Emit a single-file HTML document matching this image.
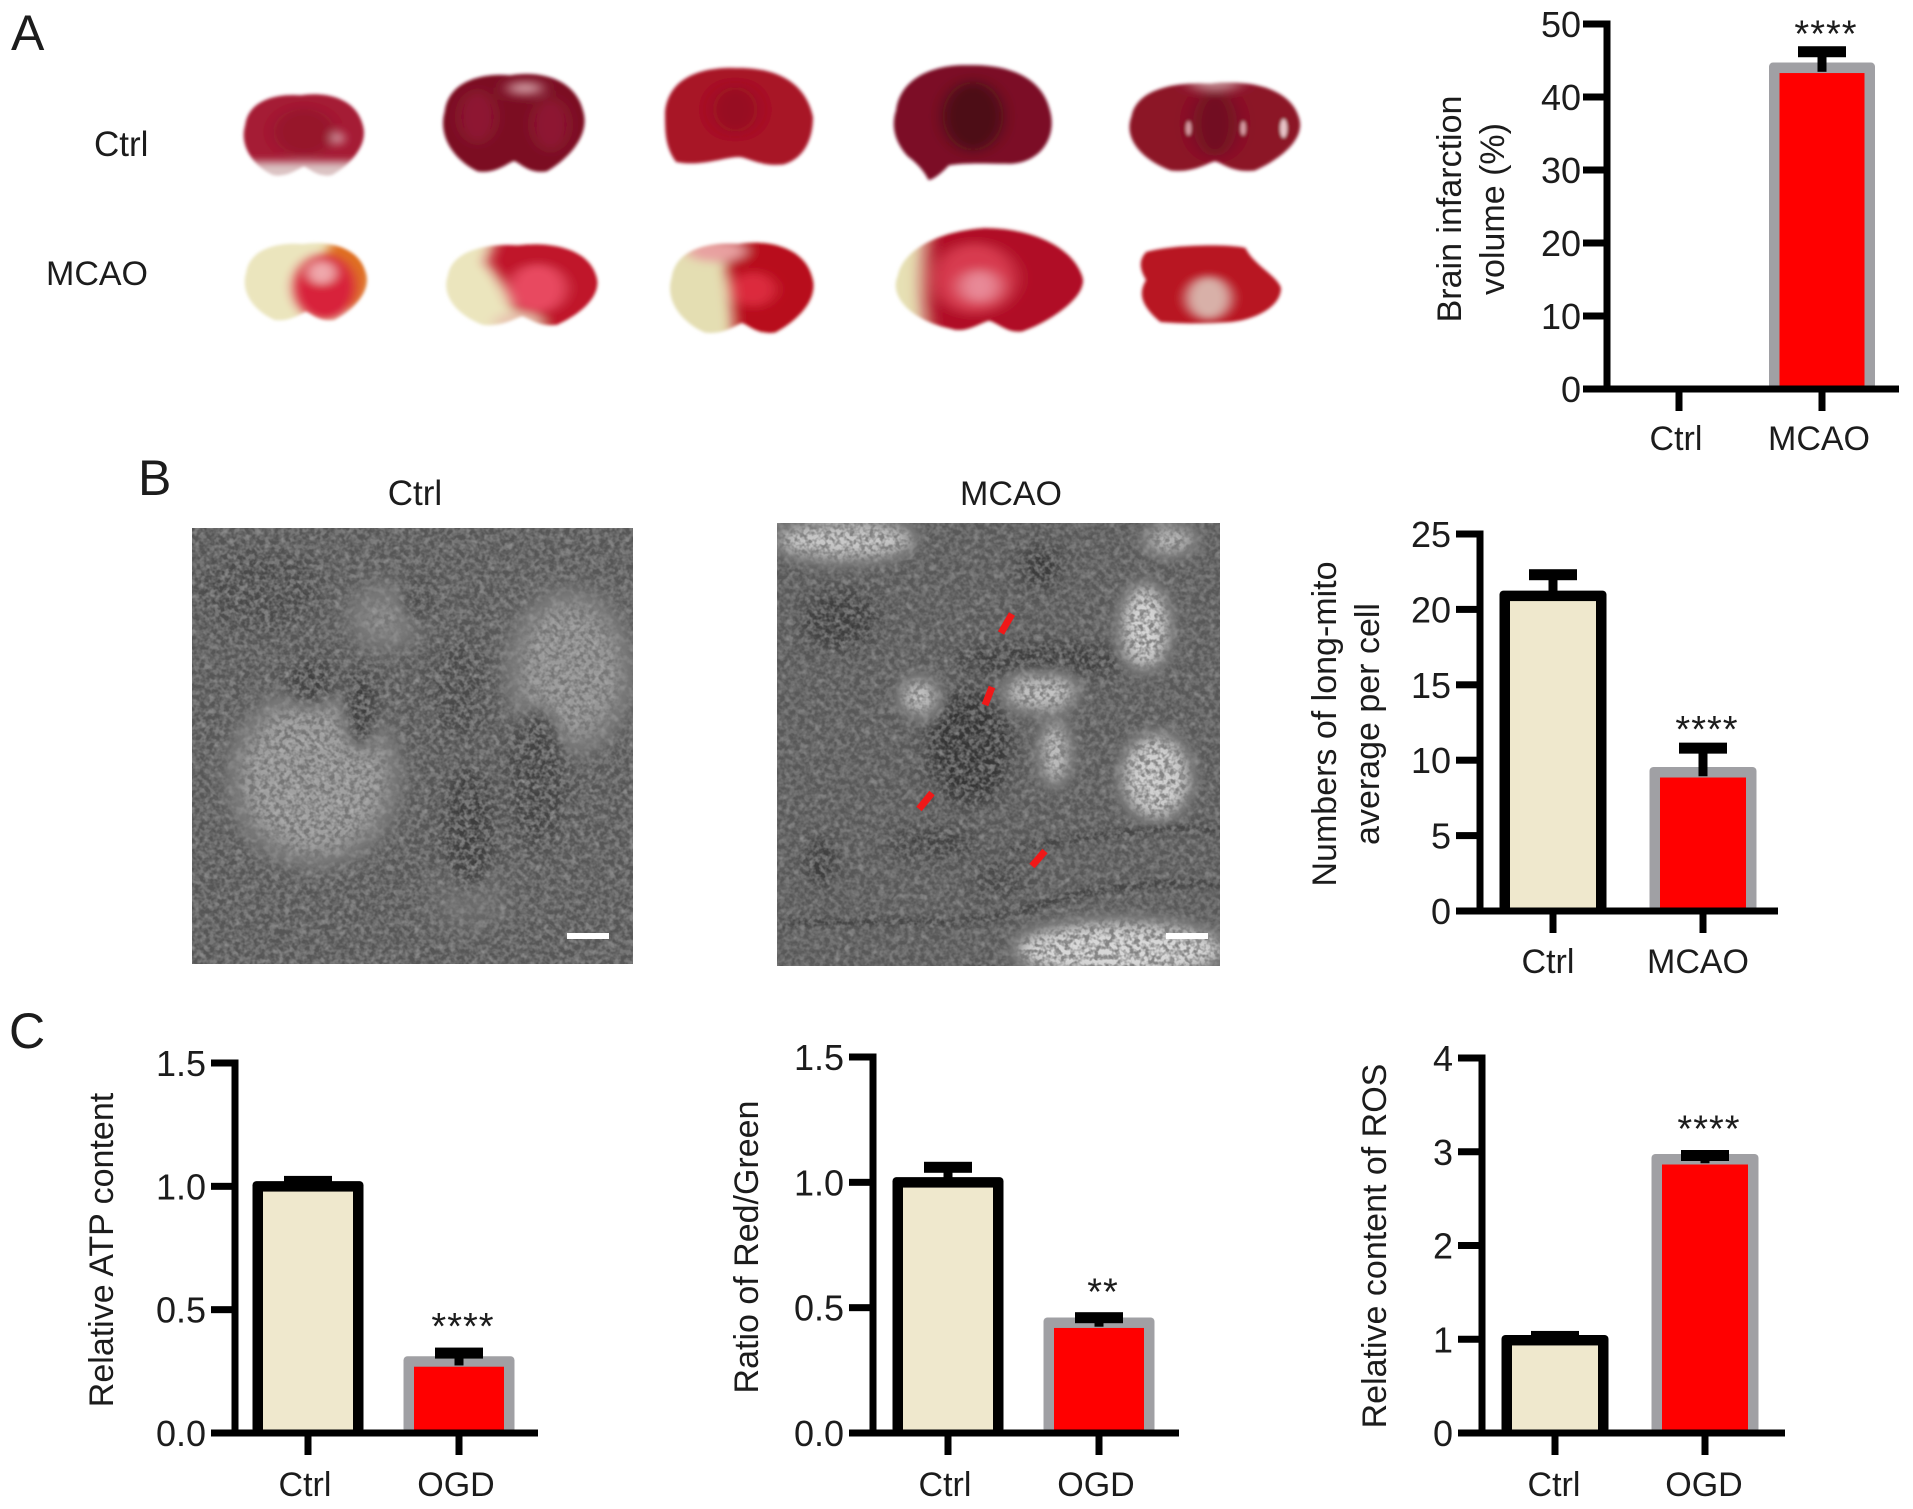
<!DOCTYPE html>
<html lang="en">
<head>
<meta charset="utf-8">
<title>Brain infarction and mitochondrial measurements</title>
<style>
html,body{margin:0;padding:0;background:#fff}
#figure{display:block;width:1913px;height:1509px}
text{font-family:"Liberation Sans",Arial,sans-serif;fill:#1c1c1c}
</style>
</head>
<body>
<svg id="figure" xmlns="http://www.w3.org/2000/svg" width="1913" height="1509" viewBox="0 0 1913 1509">
<defs>
<filter id="soft" x="-10%" y="-10%" width="120%" height="120%"><feGaussianBlur stdDeviation="1.6"/></filter>
<filter id="innerU" filterUnits="userSpaceOnUse" x="-1.5" y="-1.5" width="3" height="3"><feGaussianBlur stdDeviation=".09"/></filter>
<filter id="blob" x="-40%" y="-40%" width="180%" height="180%"><feGaussianBlur stdDeviation="8"/></filter>
<filter id="blobBig" x="-40%" y="-40%" width="180%" height="180%"><feGaussianBlur stdDeviation="14"/></filter>
<filter id="line" x="-20%" y="-20%" width="140%" height="140%"><feGaussianBlur stdDeviation="3"/></filter>
<filter id="speck" x="0" y="0" width="100%" height="100%">
<feTurbulence type="fractalNoise" baseFrequency="0.2" numOctaves="2" seed="7"/>
<feColorMatrix type="matrix" values="0 0 0 0 0.18  0 0 0 0 0.18  0 0 0 0 0.18  3.4 0 0 0 -1.3"/>
</filter>
<filter id="speckLight" x="0" y="0" width="100%" height="100%">
<feTurbulence type="fractalNoise" baseFrequency="0.14" numOctaves="2" seed="21"/>
<feColorMatrix type="matrix" values="0 0 0 0 0.7  0 0 0 0 0.7  0 0 0 0 0.7  2.2 0 0 0 -1.0"/>
</filter>
<path id="slice" d="M-.95,-.2C-.9,-.75-.5,-.95-.05,-.9C.4,-1,.85,-.8.95,-.2C1.05,.3.7,.75.45,.95C.2,1,.1,.8,0,.75C-.1,.8-.25,1-.5,.95C-.8,.75-1.05,.3-.95,-.2Z"/>
<path id="sliceBig" d="M-.95,-.1C-.9,-.6-.5,-.95-.05,-1C.4,-1,.85,-.7.97,-.1C1.05,.3.6,.8.35,.95C.2,1,.1,.8,0,.75C-.1,.8-.25,1-.4,.9C-.8,.75-1.05,.3-.95,-.1Z"/>
<clipPath id="sliceClip"><use href="#slice"/></clipPath>
<clipPath id="sliceBigClip"><use href="#sliceBig"/></clipPath>
<clipPath id="temCtrlClip"><rect x="192" y="528" width="441" height="436"/></clipPath>
<clipPath id="temMcaoClip"><rect x="777" y="523" width="443" height="443"/></clipPath>
</defs>

<text x="11" y="50" font-size="50">A</text>
<text x="138" y="495" font-size="50">B</text>
<text x="9" y="1048" font-size="50">C</text>
<text x="94" y="156" font-size="35">Ctrl</text>
<text x="46" y="285" font-size="34">MCAO</text>
<text x="415" y="505" font-size="35" text-anchor="middle">Ctrl</text>
<text x="1011" y="505" font-size="34" text-anchor="middle">MCAO</text>

<!-- TTC stained brain slices -->
<g filter="url(#soft)"><g transform="translate(304,134) scale(62,43)">
<g clip-path="url(#sliceClip)">
<rect x="-1.1" y="-1.1" width="2.2" height="2.2" fill="#a51a34"/>
<g filter="url(#innerU)">
<rect x="-1.1" y=".65" width="2.2" height=".5" fill="#dcc4c4"/>
<ellipse cx="0" cy="-.05" rx=".5" ry=".55" fill="#8e1028" opacity=".6"/>
<ellipse cx=".55" cy=".1" rx=".07" ry=".15" fill="#e4c0c4"/>
</g>
</g>
</g></g>
<g filter="url(#soft)"><g transform="translate(514,122) scale(73,52)">
<g clip-path="url(#sliceClip)">
<rect x="-1.1" y="-1.1" width="2.2" height="2.2" fill="#7c0f24"/>
<g filter="url(#innerU)">
<ellipse cx=".15" cy="-.65" rx=".25" ry=".1" fill="#e0b4b8"/>
<ellipse cx="-.5" cy="-.1" rx=".25" ry=".5" fill="#8e1830"/>
<ellipse cx=".5" cy=".05" rx=".25" ry=".5" fill="#8e1830"/>
</g>
</g>
</g></g>
<g filter="url(#soft)"><g transform="translate(739,117) scale(74,50)">
<path d="M-1,-.1C-.95,-.8-.5,-1-.05,-.98C.5,-1,.9,-.7,1,0C1,.5,.85,.85,.6,.95C.3,1,.1,.8,0,.8C-.2,.8-.5,1-.85,.9C-1,.6-1,.3-1,-.1Z" fill="#a81226"/>
<ellipse cx="-.05" cy="-.15" rx=".3" ry=".45" fill="#8c0f22" opacity=".6" filter="url(#innerU)"/>
</g></g>
<g filter="url(#soft)"><g transform="translate(973,122) scale(81,58)">
<path d="M-.95,-.2C-.9,-.75-.5,-1-.05,-.98C.4,-1,.85,-.8.95,-.2C1.05,.3.8,.75.4,.72C.15,.72-.1,.7-.3,.75C-.4,.9-.5,1-.55,1C-.6,.85-.7,.7-.8,.6C-1,.3-1,0-.95,-.2Z" fill="#7c1026"/>
<ellipse cx="0" cy="-.1" rx=".38" ry=".6" fill="#4e0a16" filter="url(#innerU)"/>
</g></g>
<g filter="url(#soft)"><g transform="translate(1215,126) scale(88,47)">
<g clip-path="url(#sliceClip)">
<rect x="-1.1" y="-1.1" width="2.2" height="2.2" fill="#8c1228"/>
<g filter="url(#innerU)">
<ellipse cx="0" cy="-.05" rx=".25" ry=".7" fill="#6a0e1e" opacity=".8"/>
<ellipse cx="0" cy="-.9" rx=".3" ry=".12" fill="#c8989c"/>
</g>
<ellipse cx=".78" cy=".05" rx=".04" ry=".2" fill="#e8c4c8"/>
<ellipse cx="-.3" cy=".05" rx=".03" ry=".15" fill="#d89ca4"/>
<ellipse cx=".32" cy=".05" rx=".03" ry=".15" fill="#d89ca4"/>
</g>
</g></g>
<g filter="url(#soft)"><g transform="translate(306,281) scale(63,41)">
<g clip-path="url(#sliceClip)">
<rect x="-1.1" y="-1.1" width="2.2" height="2.2" fill="#ebe5bd"/>
<g filter="url(#innerU)">
<ellipse cx=".65" cy="-.2" rx=".4" ry=".9" fill="#e07020"/>
<ellipse cx=".3" cy=".15" rx=".5" ry=".8" fill="#d8223a"/>
<ellipse cx=".25" cy="-.2" rx=".22" ry=".28" fill="#f0a8ac"/>
</g>
</g>
</g></g>
<g filter="url(#soft)"><g transform="translate(522,284) scale(78,43)">
<g clip-path="url(#sliceClip)">
<rect x="-1.1" y="-1.1" width="2.2" height="2.2" fill="#ebe5bd"/>
<g filter="url(#innerU)">
<path d="M-.3,-1.2L1.2,-1.2L1.2,1.2L0,1.2C-.1,.5,-.2,0,-.45,-.5Z" fill="#c0142c"/>
<ellipse cx=".2" cy=".1" rx=".36" ry=".55" fill="#e84860"/>
<ellipse cx="-.05" cy=".9" rx=".3" ry=".25" fill="#e8c4b0"/>
</g>
</g>
</g></g>
<g filter="url(#soft)"><g transform="translate(742,287) scale(74,48)">
<g clip-path="url(#sliceClip)">
<rect x="-1.1" y="-1.1" width="2.2" height="2.2" fill="#e4deb2"/>
<g filter="url(#innerU)">
<path d="M-.45,-1.2L1.2,-1.2L1.2,1.2L-.1,1.2C-.1,.6,-.15,0,-.2,-.4Z" fill="#b8101f"/>
<ellipse cx="-.35" cy="-.75" rx=".4" ry=".22" fill="#e8a0a0"/>
<ellipse cx=".15" cy=".05" rx=".3" ry=".35" fill="#dc2a3c"/>
</g>
</g>
</g></g>
<g filter="url(#soft)"><g transform="translate(989,281) scale(96,53)">
<g clip-path="url(#sliceBigClip)">
<rect x="-1.1" y="-1.1" width="2.2" height="2.2" fill="#e6e0b4"/>
<g filter="url(#innerU)">
<path d="M-.6,-1.2L1.2,-1.2L1.2,1.2L-.6,1.2C-.7,.4,-.7,-.3-.6,-1.2Z" fill="#b01026"/>
<ellipse cx="-.15" cy="-.05" rx=".42" ry=".65" fill="#d83a50"/>
<ellipse cx="-.1" cy=".1" rx=".2" ry=".3" fill="#e88a98"/>
</g>
</g>
</g></g>
<g filter="url(#soft)"><g transform="translate(1210,284) scale(71,40)">
<path d="M-.9,-.8C-.5,-1,.3,-1,.5,-.9C.6,-.5,.95,-.2,1,.1C1,.6,.6,.9,.3,.95C0,1-.4,1-.7,.95C-1,.5-1,.2-.9,-.1C-1,-.4-1,-.6-.9,-.8Z" fill="#b81420"/>
<ellipse cx="-.02" cy=".35" rx=".33" ry=".55" fill="#d8b0a8" filter="url(#innerU)"/>
</g></g>

<!-- TEM micrographs -->
<g clip-path="url(#temCtrlClip)">
<rect x="192" y="528" width="441" height="436" fill="#565656"/>
<g filter="url(#blobBig)">
<ellipse cx="570" cy="672" rx="58" ry="78" fill="#9a9a9a"/>
<ellipse cx="314" cy="777" rx="80" ry="84" fill="#a0a0a0"/>
<ellipse cx="386" cy="617" rx="36" ry="30" fill="#8c8c8c"/>
<ellipse cx="470" cy="900" rx="40" ry="30" fill="#6c6c6c"/>
</g>
<g filter="url(#blob)">
<ellipse cx="311" cy="683" rx="24" ry="22" fill="#3c3c3c"/>
<ellipse cx="361" cy="710" rx="16" ry="38" fill="#3a3a3a"/>
<ellipse cx="469" cy="827" rx="24" ry="60" fill="#3c3c3c"/>
<ellipse cx="537" cy="777" rx="28" ry="70" fill="#424242"/>
<ellipse cx="418" cy="600" rx="16" ry="24" fill="#484848"/>
<ellipse cx="460" cy="690" rx="28" ry="50" fill="#484848"/>
<ellipse cx="260" cy="590" rx="60" ry="40" fill="#484848"/>
</g>
<rect x="192" y="528" width="441" height="436" filter="url(#speck)"/>
<rect x="192" y="528" width="441" height="436" filter="url(#speckLight)" opacity=".28"/>
</g>
<rect x="567" y="933" width="42" height="6" fill="#fff"/>

<g clip-path="url(#temMcaoClip)">
<rect x="777" y="523" width="443" height="443" fill="#585858"/>
<g filter="url(#blob)">
<ellipse cx="845" cy="540" rx="70" ry="20" fill="#c8c8c8"/>
<ellipse cx="1120" cy="950" rx="105" ry="28" fill="#d8d8d8"/>
<ellipse cx="1145" cy="627" rx="24" ry="42" fill="#d4d4d4"/>
<ellipse cx="1156" cy="777" rx="34" ry="42" fill="#d0d0d0"/>
<ellipse cx="1041" cy="693" rx="36" ry="18" fill="#c4c4c4"/>
<ellipse cx="919" cy="697" rx="18" ry="18" fill="#c8c8c8"/>
<ellipse cx="1055" cy="753" rx="14" ry="32" fill="#c4c4c4"/>
<ellipse cx="1170" cy="540" rx="26" ry="14" fill="#bcbcbc"/>
<ellipse cx="969" cy="747" rx="42" ry="58" fill="#363636"/>
<ellipse cx="1041" cy="660" rx="88" ry="17" fill="#3c3c3c"/>
<ellipse cx="840" cy="620" rx="38" ry="30" fill="#3c3c3c"/>
<ellipse cx="933" cy="843" rx="44" ry="14" fill="#404040"/>
<ellipse cx="821" cy="863" rx="14" ry="24" fill="#383838"/>
<ellipse cx="1041" cy="567" rx="20" ry="20" fill="#383838"/>
<ellipse cx="1000" cy="880" rx="30" ry="20" fill="#484848"/>
</g>
<g filter="url(#line)" fill="none" stroke="#3c3c3c" stroke-width="6">
<path d="M1010,850C1090,835,1160,825,1220,830"/>
<path d="M780,925C860,915,960,935,1040,905C1100,885,1170,880,1220,885"/>
</g>
<rect x="777" y="523" width="443" height="443" filter="url(#speck)" opacity=".85"/>
<rect x="777" y="523" width="443" height="443" filter="url(#speckLight)" opacity=".28"/>
</g>
<rect x="1166" y="933" width="42" height="6" fill="#fff"/>
<g stroke="#f01818" stroke-width="7" stroke-linecap="butt">
<line x1="1001" y1="633" x2="1012" y2="614"/>
<line x1="985" y1="705" x2="992" y2="687"/>
<line x1="919" y1="809" x2="932" y2="793"/>
<line x1="1032" y1="866" x2="1045" y2="851"/>
</g>

<g id="charts"></g>
</svg>

<script>
// Panel A: brain infarction volume
const infarctCategories = ['Ctrl', 'MCAO'];
const infarctValues = [0, 44];
const infarctErrors = [0, 2.2];
const infarctStars = ['', '****'];
const infarctTicks = [0, 10, 20, 30, 40, 50];
const infarctTickLabels = ['0', '10', '20', '30', '40', '50'];

// Panel B: long mitochondria count
const mitoCategories = ['Ctrl', 'MCAO'];
const mitoValues = [20.9, 9.2];
const mitoErrors = [1.4, 1.6];
const mitoStars = ['', '****'];
const mitoTicks = [0, 5, 10, 15, 20, 25];
const mitoTickLabels = ['0', '5', '10', '15', '20', '25'];

// Panel C: relative ATP content
const atpCategories = ['Ctrl', 'OGD'];
const atpValues = [1.0, 0.29];
const atpErrors = [0.02, 0.034];
const atpStars = ['', '****'];
const atpTicks = [0, 0.5, 1, 1.5];
const atpTickLabels = ['0.0', '0.5', '1.0', '1.5'];

// Panel C: ratio of red to green
const ratioCategories = ['Ctrl', 'OGD'];
const ratioValues = [1.0, 0.44];
const ratioErrors = [0.06, 0.02];
const ratioStars = ['', '**'];
const ratioTicks = [0, 0.5, 1, 1.5];
const ratioTickLabels = ['0.0', '0.5', '1.0', '1.5'];

// Panel C: relative ROS content
const rosCategories = ['Ctrl', 'OGD'];
const rosValues = [0.99, 2.92];
const rosErrors = [0.04, 0.04];
const rosStars = ['', '****'];
const rosTicks = [0, 1, 2, 3, 4];
const rosTickLabels = ['0', '1', '2', '3', '4'];

const SVG_NS = 'http://www.w3.org/2000/svg';
const chartsRoot = document.getElementById('charts');

function make(parent, tag, attrs, text) {
  const node = document.createElementNS(SVG_NS, tag);
  for (const key in attrs) node.setAttribute(key, attrs[key]);
  if (text !== undefined) node.textContent = text;
  parent.appendChild(node);
  return node;
}

function drawChart(name, geo, categories, values, errors, stars, ticks, tickLabels, titleLines) {
  const group = make(chartsRoot, 'g', {});
  
  

  const maxTick = ticks[ticks.length - 1];
  const yScale = v => geo.y0 - (v / maxTick) * (geo.y0 - geo.yTop);
  const xScale = i => geo.c0 + i * geo.step;
  const border = 10.5;

  values.forEach((value, i) => {
    if (value <= 0) return;
    const outer = make(group, 'rect', {
      x: xScale(i) - geo.barW / 2,
      y: yScale(value) - border / 2,
      width: geo.barW,
      height: geo.y0 - yScale(value) + border / 2,
      rx: 4,
      fill: i === 0 ? '#000000' : '#a0a0a4'
    });
    
    
    const bar = make(group, 'rect', {
      x: xScale(i) - geo.barW / 2 + border,
      y: yScale(value) + border / 2,
      width: geo.barW - 2 * border,
      height: Math.max(0, geo.y0 - yScale(value) - border / 2),
      fill: i === 0 ? '#efe8cd' : '#ff0000'
    });
    
    
  });

  values.forEach((value, i) => {
    if (errors[i] <= 0) return;
    const stem = make(group, 'rect', {
      x: xScale(i) - 4.5,
      y: yScale(value + errors[i]),
      width: 9,
      height: yScale(value) - yScale(value + errors[i]) + 4,
      fill: '#000'
    });
    
    
    const cap = make(group, 'rect', {
      x: xScale(i) - 24,
      y: yScale(value + errors[i]) - 5.5,
      width: 48,
      height: 11,
      fill: '#000'
    });
    
    
    if (stars[i]) {
      const star = make(group, 'text', {
        x: xScale(i) + 4,
        y: yScale(value + errors[i]) - 4 + geo.starDy,
        'font-size': 38,
        'text-anchor': 'middle',
        'letter-spacing': 1
      }, stars[i]);
      
      
    }
  });

  const yAxis = make(group, 'rect', { x: geo.axisX - 3.5, y: geo.yTop - 3.5, width: 7, height: geo.y0 - geo.yTop + 7, fill: '#000' });
  
  
  const xAxis = make(group, 'rect', { x: geo.axisX - 24, y: geo.y0 - 3.5, width: geo.xEnd - geo.axisX + 24, height: 7, fill: '#000' });
  
  

  ticks.forEach((tick, i) => {
    const mark = make(group, 'rect', { x: geo.axisX - 24, y: yScale(tick) - 3.5, width: 24, height: 7, fill: '#000' });
    
    
    const label = make(group, 'text', { x: geo.axisX - geo.tickGap, y: yScale(tick) + 13, 'font-size': 36, 'text-anchor': 'end' }, tickLabels[i]);
    
    
  });

  categories.forEach((category, i) => {
    const mark = make(group, 'rect', { x: xScale(i) - 3.5, y: geo.y0, width: 7, height: 22, fill: '#000' });
    
    
    const label = make(group, 'text', { x: xScale(i) - 3 + geo.labelDx, y: geo.y0 + geo.labelDy, 'font-size': 34, 'text-anchor': 'middle' }, category);
    
    
  });

  titleLines.forEach((line, i) => {
    const title = make(group, 'text', {
      transform: 'translate(' + (geo.titleX + i * 43) + ',' + geo.titleY + ') rotate(-90)',
      'font-size': 34,
      'text-anchor': 'middle'
    }, line);
    
    
  });
}

drawChart('infarct-volume-chart',
  { axisX: 1607, y0: 389, yTop: 24, xEnd: 1899, c0: 1679, step: 143, barW: 106, titleX: 1461, titleY: 209, labelDy: 61, labelDx: 0, starDy: -1, tickGap: 26 },
  infarctCategories, infarctValues, infarctErrors, infarctStars, infarctTicks, infarctTickLabels,
  ['Brain infarction', 'volume (%)']);

drawChart('long-mito-chart',
  { axisX: 1480, y0: 911, yTop: 534, xEnd: 1778, c0: 1553, step: 150, barW: 107, titleX: 1336, titleY: 724, labelDy: 62, labelDx: -2, starDy: -2, tickGap: 29 },
  mitoCategories, mitoValues, mitoErrors, mitoStars, mitoTicks, mitoTickLabels,
  ['Numbers of long-mito', 'average per cell']);

drawChart('atp-content-chart',
  { axisX: 235, y0: 1433, yTop: 1063, xEnd: 538, c0: 308, step: 151, barW: 111, titleX: 113, titleY: 1250, labelDy: 63, labelDx: 0, starDy: -10, tickGap: 29 },
  atpCategories, atpValues, atpErrors, atpStars, atpTicks, atpTickLabels,
  ['Relative ATP content']);

drawChart('red-green-ratio-chart',
  { axisX: 873, y0: 1433, yTop: 1057, xEnd: 1179, c0: 948, step: 151, barW: 111, titleX: 758, titleY: 1247, labelDy: 63, labelDx: 0, starDy: -9, tickGap: 29 },
  ratioCategories, ratioValues, ratioErrors, ratioStars, ratioTicks, ratioTickLabels,
  ['Ratio of Red/Green']);

drawChart('ros-content-chart',
  { axisX: 1482, y0: 1433, yTop: 1058, xEnd: 1785, c0: 1555, step: 150, barW: 107, titleX: 1386, titleY: 1246, labelDy: 63, labelDx: 2, starDy: -10, tickGap: 29 },
  rosCategories, rosValues, rosErrors, rosStars, rosTicks, rosTickLabels,
  ['Relative content of ROS']);
</script>
</body>
</html>
